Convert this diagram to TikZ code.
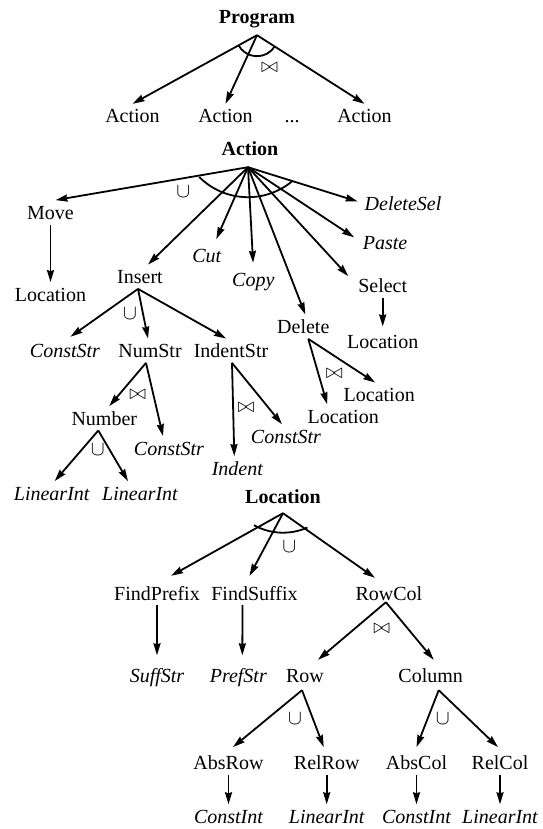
\documentclass[tikz,border=0pt]{standalone}
\usepackage{amsmath,amssymb}
\usepackage{fontspec}
\setmainfont{Liberation Serif}
\usetikzlibrary{arrows.meta}

\begin{document}
\begin{tikzpicture}[x=1pt,y=-1pt,
        lbl/.style={inner sep=1pt,text height=18pt,text depth=4pt,font=\fontsize{20}{24}\selectfont},
        hd/.style={lbl,font=\fontsize{20}{24}\selectfont\bfseries},
        tm/.style={lbl,font=\fontsize{20}{24}\selectfont\itshape},
        bt/.style={tm,text depth=0pt},
        op/.style={inner sep=0pt,font=\fontsize{20}{24}\selectfont},
        jn/.style={inner sep=0pt,font=\fontsize{22}{26}\selectfont},
        arr/.style={line width=1.8pt,-{Stealth[length=12pt,width=7pt,inset=1pt]}},
        ln/.style={line width=1.8pt}]
        \useasboundingbox (0,0) rectangle (542,829);
        \node[hd] at (257,17) (prog) {Program};
        \coordinate (progroot) at ([yshift=-6pt]prog.south);
        \node[lbl] at (132.5,116) (act1) {Action};
        \node[lbl] at (225.5,116) (act2) {Action};
        \node[lbl] at (292,116) (dots) {...};
        \node[lbl] at (364.5,116) (act3) {Action};
        \draw[arr] (progroot) -- (act1.north);
        \draw[arr] (progroot) -- (act2.north);
        \draw[arr] (progroot) -- (act3.north);
        \draw[ln] ([shift={(151:21)}]progroot) arc[start angle=151,end angle=32,radius=21];
        \node[jn] at (269.5,67.5) (j0) {$\bowtie$};

        \node[hd] at (250,149) (action) {Action};
        \coordinate (actroot) at ([xshift=-2pt,yshift=-6pt]action.south);
        \coordinate (actarc) at ([yshift=39pt]actroot);
        \node[lbl] at (50.5,212.3) (move) {Move};
        \node[lbl] at (50.5,294.3) (loc1) {Location};
        \node[lbl] at (140,276.7) (insert) {Insert};
        \node[tm] at (206.7,255) (cut) {Cut};
        \node[tm] at (253.3,279) (copy) {Copy};
        \node[lbl] at (303.3,326.7) (delete) {Delete};
        \node[lbl] at (382.7,285.7) (select) {Select};
        \node[tm] at (385,242.3) (paste) {Paste};
        \node[tm] at (403,203.3) (deletesel) {DeleteSel};
        \draw[arr] (actroot) -- ([xshift=5pt]move.north);
        \draw[arr] (actroot) -- ([xshift=8pt]insert.north);
        \draw[arr,shorten >=4pt] (actroot) -- ([xshift=8pt]cut.north);
        \draw[arr,shorten >=4pt] (actroot) -- (copy.north);
        \draw[arr] (actroot) -- ([xshift=2pt]delete.north);
        \draw[arr,shorten >=13pt] (actroot) -- (select.west);
        \draw[arr,shorten >=9pt] (actroot) -- (paste.west);
        \draw[arr,shorten >=6pt] (actroot) -- (deletesel.west);
        \draw[ln] ([shift={(135:69)}]actarc) arc[start angle=135,end angle=50,radius=69];
        \node[op] at (183.3,191.7) (u1) {$\cup$};
        \draw[arr] (move.south) -- (loc1.north);

        \node[tm] at (65,350.7) (cs1) {ConstStr};
        \node[lbl] at (150,350.7) (numstr) {NumStr};
        \node[lbl] at (231,350.7) (indentstr) {IndentStr};
        \draw[arr,shorten >=3pt] ([xshift=-2pt]insert.south) -- ([xshift=3pt]cs1.north);
        \draw[arr] ([xshift=-2pt]insert.south) -- ([xshift=-2pt]numstr.north);
        \draw[arr] ([xshift=-2pt]insert.south) -- ([xshift=-5pt]indentstr.north);
        \node[op] at (130,313.5) (u2) {$\cup$};

        \node[lbl] at (104.3,418.3) (number) {Number};
        \node[tm] at (169,448.3) (cs2) {ConstStr};
        \draw[arr] ([xshift=-4pt]numstr.south) -- ([xshift=5pt]number.north);
        \draw[arr] ([xshift=-4pt]numstr.south) -- ([xshift=-6pt]cs2.north);
        \node[jn] at (137.7,395) (j1) {$\bowtie$};

        \node[tm] at (237.3,468.3) (indent) {Indent};
        \node[tm] at (286,436.5) (cs3) {ConstStr};
        \draw[arr] ([xshift=1pt]indentstr.south) -- ([xshift=-3pt]indent.north);
        \draw[arr] ([xshift=1pt]indentstr.south) -- ([xshift=-4pt]cs3.north);
        \node[jn] at (246,407.3) (j2) {$\bowtie$};

        \node[tm] at (51.7,493.3) (li1) {LinearInt};
        \node[tm] at (140,493.3) (li2) {LinearInt};
        \draw[arr] ([xshift=-6pt]number.south) -- ([xshift=3pt]li1.north);
        \draw[arr] ([xshift=-6pt]number.south) -- ([xshift=-12pt]li2.north);
        \node[op] at (97.7,450) (u3) {$\cup$};

        \node[lbl] at (343.2,416.5) (loc2) {Location};
        \node[lbl] at (379.2,394.8) (loc3) {Location};
        \draw[arr] ([xshift=5pt]delete.south) -- ([xshift=-16pt]loc2.north);
        \draw[arr] ([xshift=5pt]delete.south) -- ([xshift=-4pt]loc3.north);
        \node[jn] at (334.3,374) (j3) {$\bowtie$};

        \node[lbl] at (382.7,341.7) (loc4) {Location};
        \draw[arr,shorten >=3pt] (select.south) -- (loc4.north);

        \node[hd] at (283,496) (location) {Location};
        \coordinate (locroot) at ([yshift=-5pt]location.south);
        \coordinate (locarc) at ([yshift=40.5pt]locroot);
        \node[lbl] at (157,593) (fp) {FindPrefix};
        \node[lbl] at (254.5,593) (fs) {FindSuffix};
        \node[lbl] at (388.9,593) (rowcol) {RowCol};
        \draw[arr] (locroot) -- ([xshift=14pt,yshift=5pt]fp.north);
        \draw[arr] (locroot) -- ([xshift=-5pt,yshift=5pt]fs.north);
        \draw[arr] (locroot) -- ([xshift=-14pt,yshift=3pt]rowcol.north);
        \draw[ln] ([shift={(119:60)}]locarc) arc[start angle=119,end angle=66,radius=60];
        \node[op] at (289.3,546.7) (u4) {$\cup$};

        \node[tm] at (157,675.5) (suffstr) {SuffStr};
        \node[tm] at (238.3,675.5) (prefstr) {PrefStr};
        \draw[arr,shorten >=8pt] (fp.south) -- (suffstr.north);
        \draw[arr,shorten >=8pt] ([xshift=-12pt]fs.south) -- ([xshift=4pt]prefstr.north);

        \node[lbl] at (305,675) (row) {Row};
        \node[lbl] at (430.7,675) (column) {Column};
        \draw[arr] ([xshift=-3pt,yshift=3pt]rowcol.south) -- ([xshift=13pt,yshift=3pt]row.north);
        \draw[arr] ([xshift=-3pt,yshift=3pt]rowcol.south) -- ([xshift=3pt,yshift=3pt]column.north);
        \node[jn] at (381.7,628.3) (j4) {$\bowtie$};

        \node[lbl] at (228.5,762.3) (absrow) {AbsRow};
        \node[lbl] at (326.7,762.3) (relrow) {RelRow};
        \node[lbl] at (416.5,762.3) (abscol) {AbsCol};
        \node[lbl] at (500,762.3) (relcol) {RelCol};
        \draw[arr] ([xshift=-3pt,yshift=-3pt]row.south) -- ([xshift=4.5pt,yshift=3pt]absrow.north);
        \draw[arr] ([xshift=-3pt,yshift=-3pt]row.south) -- ([xshift=-3pt,yshift=3pt]relrow.north);
        \draw[arr] ([xshift=8pt,yshift=-3pt]column.south) -- ([yshift=3pt]abscol.north);
        \draw[arr] ([xshift=8pt,yshift=-3pt]column.south) -- ([xshift=-2pt,yshift=3pt]relcol.north);
        \node[op] at (295,718.3) (u5) {$\cup$};
        \node[op] at (442.7,718.3) (u6) {$\cup$};

        \node[bt] at (228.5,814.5) (ci1) {ConstInt};
        \node[bt] at (326.7,814.5) (li3) {LinearInt};
        \node[bt] at (416.5,814.5) (ci2) {ConstInt};
        \node[bt] at (500,814.5) (li4) {LinearInt};
        \draw[arr] (absrow.south) -- (ci1.north);
        \draw[arr] (relrow.south) -- (li3.north);
        \draw[arr] (abscol.south) -- (ci2.north);
        \draw[arr] (relcol.south) -- (li4.north);
    \end{tikzpicture}
\end{document}
